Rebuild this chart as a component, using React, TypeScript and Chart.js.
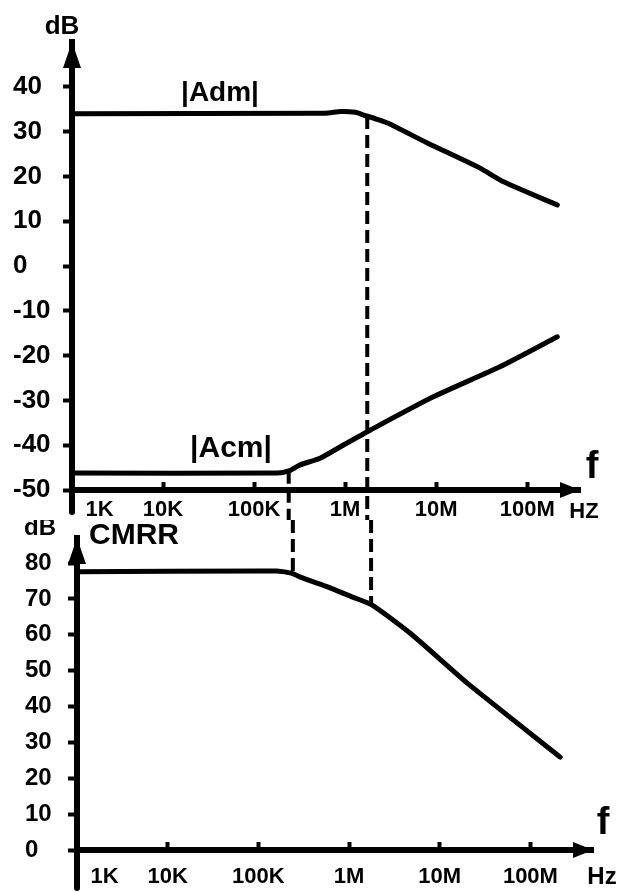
import React, { useEffect, useRef } from 'react';
import { Chart, registerables } from 'chart.js';

Chart.register(...registerables);

const INK = '#000000';
const FONT = '"Liberation Sans", Arial, sans-serif';

// ---- data ----
const freqTickValues = [1e3, 1e4, 1e5, 1e6, 1e7, 1e8];
const freqTickLabels = ['1K', '10K', '100K', '1M', '10M', '100M'];
const gainDbTicks = [-50, -40, -30, -20, -10, 0, 10, 20, 30, 40];
const cmrrDbTicks = [0, 10, 20, 30, 40, 50, 60, 70, 80];

const admFreq = [1e3, 6e5, 9e5, 1.3e6, 1.6e6, 2.2e6, 3.1e6, 7.9e6, 3e7, 5.5e7, 2.14e8];
const admDb = [34.0, 34.1, 34.5, 34.3, 33.7, 32.8, 31.7, 27.5, 21.9, 18.8, 13.6];

const acmFreq = [1e3, 1.8e5, 2.5e5, 3.2e5, 5.3e5, 9.5e5, 1.9e6, 9.3e6, 5e7, 2.14e8];
const acmDb = [-46.2, -46.2, -45.6, -44.4, -42.9, -40.0, -36.6, -29.2, -22.5, -15.8];

const cmrrFreq = [1e3, 1.1e5, 1.6e5, 2.3e5, 2.9e5, 5.5e5, 1.1e6, 1.8e6, 4.7e6, 2e7, 2.13e8];
const cmrrDb = [77.6, 77.8, 77.8, 77.2, 76.1, 73.6, 70.5, 68.3, 60.5, 46.6, 25.9];

const markerFreq = [2.4e5, 1.75e6];
const markerGainDb = [-45.7, 33.5];
const markerCmrrDb = [77.0, 68.4];

// ---- helpers ----
const pts = (xs: number[], ys: number[]) => xs.map((x, i) => ({ x, y: ys[i] }));

const lineDs = (label: string, xs: number[], ys: number[]) => ({
  label,
  data: pts(xs, ys),
  borderColor: INK,
  borderWidth: 5,
  pointRadius: 0,
  borderCapStyle: 'round',
  borderJoinStyle: 'round',
  tension: 0.2,
  fill: false,
});

function text(ctx: CanvasRenderingContext2D, s: string, x: number, y: number, size: number) {
  ctx.font = `bold ${size}px ${FONT}`;
  ctx.textAlign = 'center';
  ctx.textBaseline = 'middle';
  ctx.fillText(s, x, y);
}

function arrowUp(ctx: CanvasRenderingContext2D, x: number, y: number) {
  ctx.beginPath();
  ctx.moveTo(x, y);
  ctx.lineTo(x - 9, y + 26);
  ctx.lineTo(x + 9, y + 26);
  ctx.closePath();
  ctx.fill();
}

function arrowRight(ctx: CanvasRenderingContext2D, x: number, y: number) {
  ctx.beginPath();
  ctx.moveTo(x, y);
  ctx.lineTo(x - 20, y - 8);
  ctx.lineTo(x - 20, y + 8);
  ctx.closePath();
  ctx.fill();
}

function xScale(max: number, axisHeight: number, pad: number) {
  return {
    type: 'logarithmic',
    min: 1e3,
    max,
    afterBuildTicks: (a: any) => {
      a.ticks = freqTickValues.map((v) => ({ value: v }));
    },
    afterFit: (a: any) => {
      a.height = axisHeight;
    },
    ticks: {
      autoSkip: false,
      maxRotation: 0,
      minRotation: 0,
      padding: pad,
      color: INK,
      font: { family: FONT, size: 22, weight: 'bold' },
      callback: (v: number, i: number) => (i === 0 ? '         ' + freqTickLabels[0] : freqTickLabels[i]),
    },
    grid: { drawOnChartArea: false, drawTicks: true, tickLength: -8, tickWidth: 4, tickColor: INK },
    border: { display: true, width: 6, color: INK },
  };
}

function yScale(min: number, max: number, tickVals: number[], width: number, size: number) {
  return {
    type: 'linear',
    min,
    max,
    afterBuildTicks: (a: any) => {
      a.ticks = tickVals.map((v) => ({ value: v }));
    },
    afterFit: (a: any) => {
      a.width = width;
    },
    ticks: {
      crossAlign: 'far',
      color: INK,
      font: { family: FONT, size, weight: 'bold' },
      callback: (v: number) => String(v),
    },
    grid: { drawOnChartArea: false, drawTicks: true, tickLength: 9, tickWidth: 4, tickColor: INK },
    border: { display: true, width: 6, color: INK },
  };
}

const topDecor = {
  id: 'topDecor',
  afterDraw(chart: any) {
    const { ctx, chartArea: a, scales } = chart;
    ctx.save();
    ctx.strokeStyle = INK;
    ctx.fillStyle = INK;
    ctx.lineCap = 'round';
    ctx.lineWidth = 6;
    ctx.beginPath();
    ctx.moveTo(a.left, a.bottom);
    ctx.lineTo(a.left, a.bottom + 22);
    ctx.stroke();
    arrowUp(ctx, a.left, a.top);
    arrowRight(ctx, a.right, a.bottom);
    ctx.lineWidth = 4;
    ctx.lineCap = 'butt';
    ctx.setLineDash([13, 6]);
    markerFreq.forEach((f, i) => {
      const x = scales.x.getPixelForValue(f);
      const y = scales.y.getPixelForValue(markerGainDb[i]);
      ctx.beginPath();
      ctx.moveTo(x, y);
      ctx.lineTo(x, chart.height);
      ctx.stroke();
    });
    ctx.setLineDash([]);
    text(ctx, 'dB', 62, 27, 26);
    text(ctx, '|Adm|', 220, 93, 28);
    text(ctx, '|Acm|', 231, 449, 30);
    text(ctx, 'f', 592, 468, 38);
    text(ctx, 'HZ', 584, 512, 22);
    ctx.restore();
  },
};

const bottomDecor = {
  id: 'bottomDecor',
  afterDraw(chart: any) {
    const { ctx, chartArea: a, scales } = chart;
    ctx.save();
    ctx.strokeStyle = INK;
    ctx.fillStyle = INK;
    ctx.lineCap = 'round';
    ctx.lineWidth = 6;
    ctx.beginPath();
    ctx.moveTo(a.left, a.bottom);
    ctx.lineTo(a.left, a.bottom + 38);
    ctx.stroke();
    arrowUp(ctx, a.left, a.top);
    arrowRight(ctx, a.right, a.bottom);
    ctx.lineWidth = 4;
    ctx.lineCap = 'butt';
    ctx.setLineDash([13, 6]);
    markerFreq.forEach((f, i) => {
      const x = scales.x.getPixelForValue(f);
      const y = scales.y.getPixelForValue(markerCmrrDb[i]);
      ctx.beginPath();
      ctx.moveTo(x, 0);
      ctx.lineTo(x, y);
      ctx.stroke();
    });
    ctx.setLineDash([]);
    text(ctx, 'dB', 40, 8, 24);
    text(ctx, 'CMRR', 134, 16, 30);
    text(ctx, 'f', 603, 304, 38);
    text(ctx, 'Hz', 602, 357, 24);
    ctx.restore();
  },
};

export default function App() {
  const topRef = useRef<HTMLCanvasElement>(null);
  const botRef = useRef<HTMLCanvasElement>(null);

  useEffect(() => {
    const top = new Chart(topRef.current as HTMLCanvasElement, {
      type: 'line',
      data: {
        datasets: [lineDs('|Adm|', admFreq, admDb), lineDs('|Acm|', acmFreq, acmDb)] as any,
      },
      options: {
        responsive: false,
        animation: false,
        layout: { padding: { left: 13, top: 42, right: 46, bottom: 0 } },
        plugins: { legend: { display: false }, tooltip: { enabled: false } },
        scales: {
          x: xScale(3.8e8, 30, 15),
          y: yScale(-50, 50, gainDbTicks, 59, 26),
        } as any,
      },
      plugins: [topDecor],
    });
    const bot = new Chart(botRef.current as HTMLCanvasElement, {
      type: 'line',
      data: {
        datasets: [lineDs('CMRR', cmrrFreq, cmrrDb)] as any,
      },
      options: {
        responsive: false,
        animation: false,
        layout: { padding: { left: 25, top: 18, right: 33, bottom: 0 } },
        plugins: { legend: { display: false }, tooltip: { enabled: false } },
        scales: {
          x: xScale(4.9e8, 42, 22),
          y: yScale(0, 87, cmrrDbTicks, 52, 24),
        } as any,
      },
      plugins: [bottomDecor],
    });
    return () => {
      top.destroy();
      bot.destroy();
    };
  }, []);

  return (
    <div style={{ position: 'absolute', left: 0, top: 0, width: 626, height: 892, background: '#fff' }}>
      <canvas ref={topRef} width={626} height={520} style={{ position: 'absolute', left: 0, top: 0, display: 'block' }} />
      <canvas ref={botRef} width={626} height={372} style={{ position: 'absolute', left: 0, top: 520, display: 'block' }} />
    </div>
  );
}
